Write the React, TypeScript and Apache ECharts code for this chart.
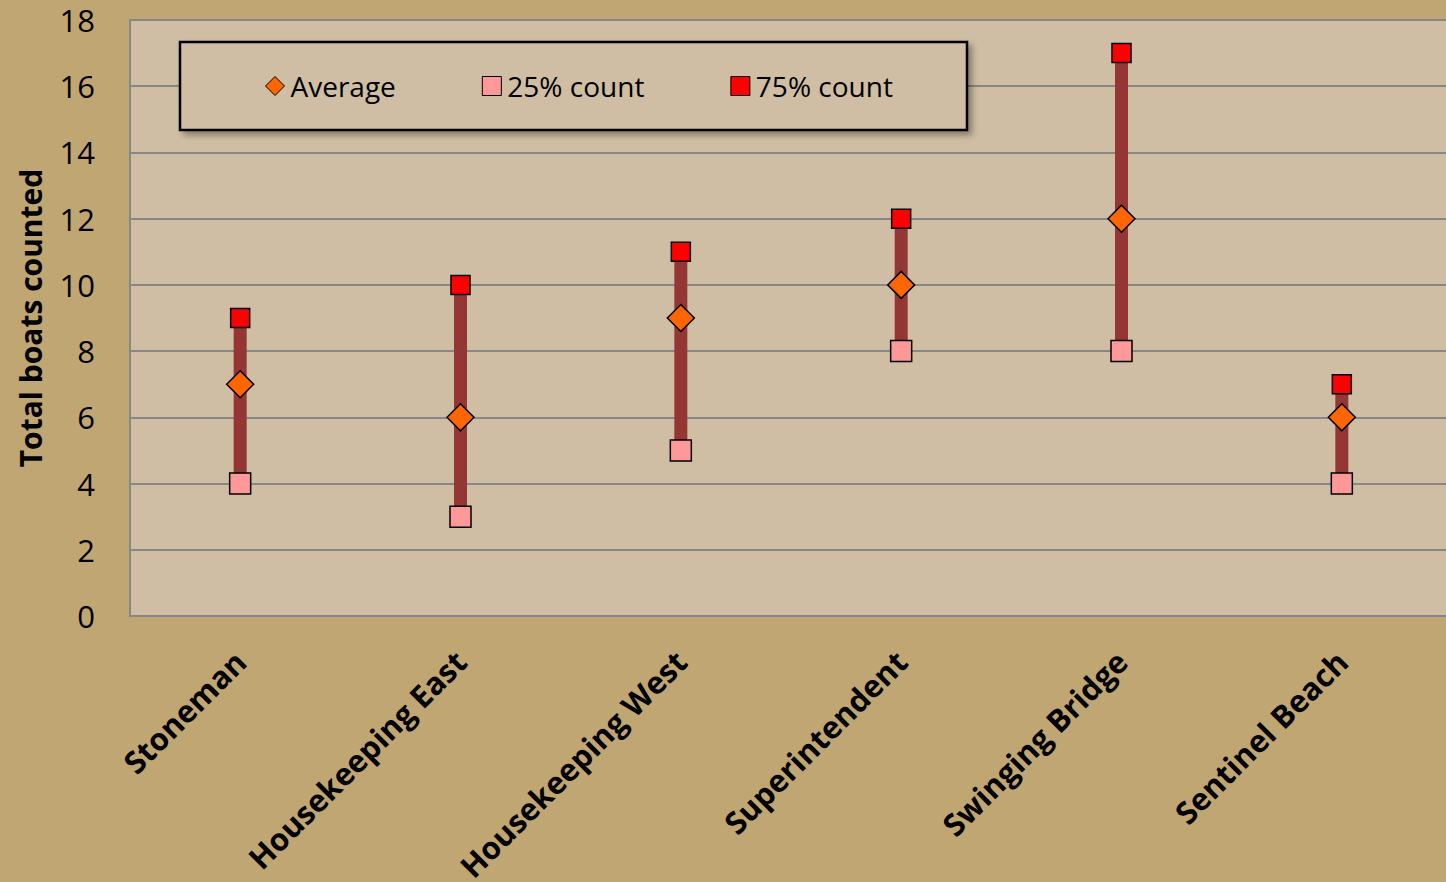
import React, { useEffect, useRef } from "react";
import * as echarts from "echarts";

const categories = [
  "Stoneman",
  "Housekeeping East",
  "Housekeeping West",
  "Superintendent",
  "Swinging Bridge",
  "Sentinel Beach",
];
const average = [7, 6, 9, 10, 12, 6];
const count25 = [4, 3, 5, 8, 8, 4];
const count75 = [9, 10, 11, 12, 17, 7];
const yTicks = { min: 0, max: 18, interval: 2 };

const FONT = "'Open Sans', sans-serif";

export default function App() {
  const ref = useRef<HTMLDivElement>(null);
  useEffect(() => {
    document.body.style.margin = "0";
    document.body.style.overflow = "hidden";
    const chart = echarts.init(ref.current!, null, { renderer: "svg" });
    const rangeVals = count75.map((v, i) => v - count25[i]);
    chart.setOption({
      animation: false,
      backgroundColor: "#C0A673",
      textStyle: { fontFamily: FONT },
      grid: {
        left: 130,
        top: 20,
        width: 1322,
        height: 596,
        show: true,
        backgroundColor: "#CFBEA3",
        borderWidth: 0,
        containLabel: false,
        outerBoundsMode: "none",
      },
      graphic: [
        {
          type: "rect",
          z: 3,
          shape: { x: 180, y: 42, width: 787, height: 88 },
          style: {
            fill: "#CFBEA3",
            stroke: "#000",
            lineWidth: 2.5,
            shadowBlur: 6,
            shadowOffsetX: 4,
            shadowOffsetY: 4,
            shadowColor: "rgba(0,0,0,0.35)",
          },
        },
      ],
      legend: {
        z: 5,
        left: 265,
        top: 72,
        padding: 0,
        itemWidth: 19,
        itemHeight: 19,
        itemGap: 86,
        data: [
          { name: "Average", icon: "diamond", itemStyle: { borderColor: "#000", borderWidth: 1, opacity: 1 } },
          { name: "25% count", icon: "rect", itemStyle: { borderColor: "#000", borderWidth: 1, opacity: 1 } },
          { name: "75% count", icon: "rect", itemStyle: { borderColor: "#000", borderWidth: 1, opacity: 1 } },
        ],
        textStyle: { fontSize: 28, color: "#000", fontFamily: FONT, padding: [0, 0, 0, 1] },
      },
      xAxis: {
        type: "category",
        data: categories,
        boundaryGap: true,
        axisTick: { show: false },
        axisLine: { lineStyle: { color: "#878787", width: 2 } },
        axisLabel: {
          rotate: 45,
          margin: 40,
          interval: 0,
          fontSize: 31,
          fontWeight: "bold",
          color: "#000",
          fontFamily: FONT,
        },
      },
      yAxis: {
        type: "value",
        min: yTicks.min,
        max: yTicks.max,
        interval: yTicks.interval,
        name: "Total boats counted",
        nameLocation: "middle",
        nameGap: 85,
        nameTextStyle: { fontSize: 30, fontWeight: "bold", color: "#000", fontFamily: FONT },
        axisLine: { show: true, lineStyle: { color: "#878787", width: 2 } },
        axisTick: { show: false },
        splitLine: { lineStyle: { color: "#878787", width: 2 } },
        axisLabel: { fontSize: 31, color: "#000", margin: 35, fontFamily: FONT },
      },
      series: [
        {
          name: "base",
          type: "bar",
          stack: "range",
          data: count25,
          barWidth: 13,
          itemStyle: { color: "transparent" },
          silent: true,
          z: 1,
        },
        {
          name: "range",
          type: "bar",
          stack: "range",
          data: rangeVals,
          barWidth: 13,
          itemStyle: { color: "#943634" },
          silent: true,
          z: 1,
        },
        {
          name: "25% count",
          type: "scatter",
          data: count25,
          symbol: "rect",
          symbolSize: 21,
          itemStyle: { color: "#FF9999", borderColor: "#000", borderWidth: 1.5, opacity: 1 },
          z: 3,
        },
        {
          name: "75% count",
          type: "scatter",
          data: count75,
          symbol: "rect",
          symbolSize: 19,
          itemStyle: { color: "#FF0000", borderColor: "#000", borderWidth: 1.5, opacity: 1 },
          z: 3,
        },
        {
          name: "Average",
          type: "scatter",
          data: average,
          symbol: "diamond",
          symbolSize: 27,
          itemStyle: { color: "#FF6600", borderColor: "#000", borderWidth: 1.5, opacity: 1 },
          z: 4,
        },
      ],
    });
    return () => chart.dispose();
  }, []);
  return (
    <div style={{ width: 1446, height: 882, overflow: "hidden" }}>
      <div ref={ref} style={{ width: 1470, height: 882 }} />
    </div>
  );
}
